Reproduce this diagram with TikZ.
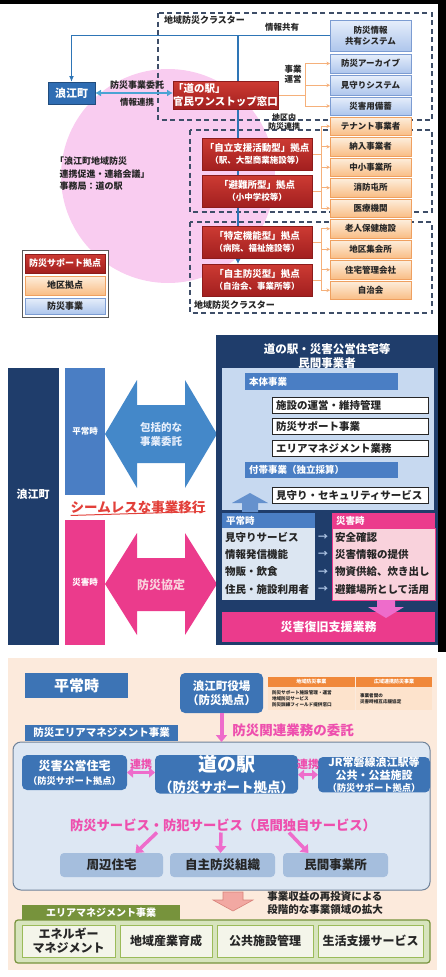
\documentclass[tikz,border=0pt]{standalone}
\usepackage{fontspec}
\setmainfont{Noto Sans CJK JP}
\usetikzlibrary{arrows.meta}
\pgfdeclarelayer{back}\pgfdeclarelayer{mid}\pgfsetlayers{back,mid,main}
\definecolor{navy}{HTML}{1F3D6B}
\definecolor{bluem}{HTML}{4A7EC4}
\definecolor{blueboxc}{HTML}{2F6DB3}
\definecolor{pinkm}{HTML}{EB3B8C}
\definecolor{pinkl}{HTML}{F9D2DC}
\definecolor{lblue}{HTML}{C7D9F0}
\definecolor{lblue2}{HTML}{DCE6F2}
\definecolor{circpink}{HTML}{F9CCF0}
\definecolor{dashc}{HTML}{3E4E68}
\definecolor{lineb}{HTML}{2E75B6}
\definecolor{arrowlb}{HTML}{4BA3D3}
\definecolor{orl}{HTML}{F5B07A}
\definecolor{redt}{HTML}{CD3B33}
\definecolor{redb}{HTML}{A21F1F}
\definecolor{redd}{HTML}{8C1C1C}
\definecolor{ort}{HTML}{FDEEDC}
\definecolor{orb}{HTML}{F9BD85}
\definecolor{ord}{HTML}{EFA060}
\definecolor{blt}{HTML}{E6EEFB}
\definecolor{blb}{HTML}{AEC6EC}
\definecolor{bld}{HTML}{7C9CD2}
\definecolor{seam}{HTML}{E2403A}
\definecolor{peach}{HTML}{FCEADC}
\definecolor{bthree}{HTML}{3D74B5}
\definecolor{pkthree}{HTML}{EE4FAE}
\definecolor{pkar}{HTML}{EE6CCB}
\definecolor{bigf}{HTML}{DDE7F3}
\definecolor{bigd}{HTML}{6F8299}
\definecolor{lowb}{HTML}{A5BEDD}
\definecolor{tbh}{HTML}{F0883A}
\definecolor{tbb}{HTML}{FDE3CC}
\definecolor{grn}{HTML}{77933C}
\definecolor{grnl}{HTML}{D7E4BD}
\definecolor{grnb}{HTML}{F4F5EA}
\definecolor{grnd}{HTML}{9BBB59}
\definecolor{salf}{HTML}{F2A8A2}
\definecolor{sald}{HTML}{D8827A}
\definecolor{arrg}{HTML}{A9C0E0}
\definecolor{txtd}{HTML}{262626}
\newcommand\fsz[2]{\fontsize{#1}{#2}\selectfont}
\newcommand\mybox[7]{\node[#1,anchor=north west,minimum width={(#5-#3)*1pt},minimum height={(#6-#4)*1pt}] (#2) at (#3,#4) {#7};}
\newcommand\myboxl[8]{\mybox{#1}{#2}{#3}{#4}{#5}{#6}{}\node[#7,anchor=west] (#2t) at ([xshift=4pt]#2.west) {#8};}
\tikzset{
  every node/.style={inner sep=0pt,outer sep=0pt,align=center,font=\bfseries},
  redbox/.style={top color=redt,bottom color=redb,draw=redd,line width=0.4pt,text=white,font=\fsz{9.5}{12}\bfseries},
  orbox/.style={top color=ort,bottom color=orb,draw=ord,line width=0.4pt,text=txtd,font=\fsz{8.5}{10}\bfseries},
  blbox/.style={top color=blt,bottom color=blb,draw=bld,line width=0.4pt,text=txtd,font=\fsz{8.5}{11}\bfseries},
  dashrect/.style={draw=dashc,line width=1.1pt,dash pattern=on 5pt off 3.5pt},
  lbl/.style={text=txtd,font=\fsz{8.5}{10}\bfseries},
  bl/.style={draw=lineb,line width=1.2pt},
  ol/.style={draw=orl,line width=0.9pt},
  olar/.style={ol,-{Stealth[length=3.5pt,width=3.5pt]}},
  wbox/.style={fill=white,draw=txtd,line width=0.5pt},
  wtxt/.style={text=txtd,font=\fsz{10.5}{12}\bfseries},
  bartxt/.style={text=white,font=\fsz{9.5}{11}\bfseries},
  rbox3/.style={fill=bthree,rounded corners=5pt,text=white},
  parrow/.style={draw=pkar,line width=3.5pt,-{Triangle[length=7pt,width=11pt]}},
  pdarrow/.style={draw=pkar,line width=3pt,{Triangle[length=6pt,width=10pt]}-{Triangle[length=6pt,width=10pt]}},
  lowbox/.style={fill=lowb,rounded corners=4pt,text=txtd,font=\fsz{12.5}{14}\bfseries},
  gbox/.style={fill=grnb,draw=grnd,line width=0.8pt,text=txtd,font=\fsz{12}{14}\bfseries}
}
\begin{document}
\begin{tikzpicture}[x=1pt,y=-1pt]
\useasboundingbox (0,0) rectangle (446,977);
% ---------------- backgrounds
\begin{pgfonlayer}{back}
\fill[black] (0,0) rectangle (446,4);
\fill[black] (438,0) rectangle (446,652);
\fill[circpink] (168,176) circle (107pt);
\draw[dashrect] (158,13) rectangle (432,120);
\draw[dashrect] (190,130) rectangle (432,212);
\draw[dashrect] (190,222) rectangle (432,313);
\fill[peach] (8,658) rectangle (437,970);
\end{pgfonlayer}
% ---------------- panel 1
\node[lbl,anchor=west,font=\fsz{9}{10}\bfseries] (cl1) at (164,20) {地域防災クラスター};
\node[lbl,anchor=west,font=\fsz{9}{10}\bfseries] (cl2) at (194,305) {地域防災クラスター};
\mybox{fill=blueboxc,draw=blueboxc!70!black,line width=0.4pt,text=white,font=\fsz{11}{12}\bfseries}{nam}{48}{82}{95}{104}{浪江町}
\node[redbox,anchor=north west,minimum width=105pt,minimum height=28pt,align=left,font=\fsz{10.5}{12.5}\bfseries] (eki) at (173,81) {「道の駅」\\官民ワンストップ窓口};
\mybox{blbox}{info}{330}{20}{411}{51}{防災情報\\共有システム}
\mybox{blbox}{arc}{330}{54}{411}{73}{防災アーカイブ}
\mybox{blbox}{mim}{330}{75.5}{411}{95}{見守りシステム}
\mybox{blbox}{bic}{330}{97}{411}{115}{災害用備蓄}
\mybox{orbox}{ten}{330}{117}{411}{135.5}{テナント事業者}
\mybox{orbox}{nou}{330}{137.5}{411}{156}{納入事業者}
\mybox{orbox}{chu}{330}{158}{411}{176.5}{中小事業所}
\mybox{orbox}{sho}{330}{178.5}{411}{197}{消防屯所}
\mybox{orbox}{iry}{330}{199}{411}{217.5}{医療機関}
\mybox{orbox}{rou}{330}{219.5}{411}{238}{老人保健施設}
\mybox{orbox}{chi}{330}{240}{411}{258.5}{地区集会所}
\mybox{orbox}{jut}{330}{260.5}{411}{279}{住宅管理会社}
\mybox{orbox}{jic}{330}{281}{411}{299.5}{自治会}
\mybox{redbox}{ra}{202}{138}{312}{170}{「自立支援活動型」拠点\\{\fsz{8.5}{11}（駅、大型商業施設等）}}
\mybox{redbox}{rb}{202}{175}{312}{207}{「避難所型」拠点\\{\fsz{8.5}{11}（小中学校等）}}
\mybox{redbox}{rc}{202}{226}{312}{258}{「特定機能型」拠点\\{\fsz{8.5}{11}（病院、福祉施設等）}}
\mybox{redbox}{rd}{202}{264}{312}{296}{「自主防災型」拠点\\{\fsz{8.5}{11}（自治会、事業所等）}}
\node[lbl] (jkyo) at (282,27) {情報共有};
\node[lbl] (unei) at (293,74) {事業\\運営};
\node[lbl,font=\fsz{8}{9.5}\bfseries] (chiku) at (284,122) {地区内\\防災連携};
\node[lbl,font=\fsz{9}{10}\bfseries] (itaku) at (137,85) {防災事業委託};
\node[lbl,font=\fsz{8.5}{10}\bfseries] (renk) at (137,102) {情報連携};
\node[lbl,anchor=north west,align=left,font=\fsz{9}{12.5}\bfseries] (kaigi) at (55,157) {「浪江町地域防災\\\hspace{0.5em}連携促進・連絡会議」\\\hspace{0.5em}事務局：道の駅};
\mybox{fill=white,draw=black!65,line width=1pt}{leg}{22}{250}{108}{317}{}
\mybox{redbox,font=\fsz{9}{10}\bfseries}{lg1}{25}{254}{105}{273}{防災サポート拠点}
\mybox{orbox,font=\fsz{9}{10}\bfseries}{lg2}{25}{276}{105}{295}{地区拠点}
\mybox{blbox,font=\fsz{9}{10}\bfseries}{lg3}{25}{298}{105}{314}{防災事業}
\coordinate (tj) at (238,35);
\coordinate (b1) at (305,0);
\coordinate (b2) at (321,0);
\begin{pgfonlayer}{mid}
\draw[bl,{Latex[length=6pt,width=5pt]}-] (nam.north) |- (info.west);
\draw[bl,-{Latex[length=5pt,width=5pt]}] (tj) -- (tj |- rd.north);
\draw[draw=arrowlb,line width=2.2pt,{Latex[length=6pt,width=7pt]}-{Latex[length=6pt,width=7pt]}] (nam.east) -- (nam.east -| eki.west);
\draw[ol] (eki.east) -- (eki.east -| b1);
\draw[ol] (b1 |- arc.west) -- (b1 |- bic.west);
\foreach \n in {arc,mim,bic} \draw[olar] (b1 |- \n.west) -- (\n.west);
\draw[ol] (b2 |- ten.west) -- (b2 |- iry.west);
\draw[ol] (ra.east) -- (ra.east -| b2);
\draw[ol] (rb.east) -- (rb.east -| b2);
\foreach \n in {ten,nou,chu,sho,iry} \draw[olar] (b2 |- \n.west) -- (\n.west);
\draw[ol] (b2 |- rou.west) -- (b2 |- jic.west);
\draw[ol] (rc.east) -- (rc.east -| b2);
\draw[ol] (rd.east) -- (rd.east -| b2);
\foreach \n in {rou,chi,jut,jic} \draw[olar] (b2 |- \n.west) -- (\n.west);
\end{pgfonlayer}
% ---------------- panel 2
\mybox{fill=navy}{nmz}{8}{368}{59}{645}{}
\node[text=white,font=\fsz{11}{12}\bfseries] (nmzt) at (33,494) {浪江町};
\mybox{fill=bluem,text=white,font=\fsz{8.5}{10}\bfseries}{heij}{65}{368}{105}{495}{平常時}
\mybox{fill=pinkm,text=white,font=\fsz{8.5}{10}\bfseries}{saij}{65}{520}{105}{645}{災害時}
\node[text=seam,font=\fsz{13.5}{15}\bfseries] (seam) at (138,507) {シームレスな事業移行};
\draw[seam,line width=1pt] (seam.south west) ++(0,2) -- ([yshift=2pt]seam.south east);
\fill[bluem!92!cyan] (105,434) -- (137,380) -- (137,405) -- (185,405) -- (185,380) -- (217,434) -- (185,488) -- (185,463) -- (137,463) -- (137,488) -- cycle;
\node[text=blt,font=\fsz{10.5}{14}\bfseries] (hok) at (161,434) {包括的な\\事業委託};
\fill[pinkm] (105,584) -- (137,533) -- (137,558) -- (185,558) -- (185,533) -- (217,584) -- (185,635) -- (185,611) -- (137,611) -- (137,635) -- cycle;
\node[text=pinkl,font=\fsz{12}{14}\bfseries] (kyot) at (161,585) {防災協定};
\mybox{fill=navy}{rbig}{216}{335}{438}{645}{}
\node[text=white,font=\fsz{11.5}{14}\bfseries] (rtit) at (327,356) {道の駅・災害公営住宅等\\民間事業者};
\mybox{fill=lblue}{inner}{222}{368}{434}{510}{}
\myboxl{fill=bluem}{hont}{245}{373}{398}{390}{bartxt}{本体事業}
\myboxl{wbox}{w1}{272}{397}{428}{413.5}{wtxt}{施設の運営・維持管理}
\myboxl{wbox}{w2}{272}{418}{428}{434.5}{wtxt}{防災サポート事業}
\myboxl{wbox}{w3}{272}{440}{428}{456.5}{wtxt}{エリアマネジメント業務}
\myboxl{fill=bluem}{futai}{245}{462}{398}{478}{bartxt}{付帯事業（独立採算）}
\myboxl{wbox}{w4}{272}{487}{428}{503}{wtxt}{見守り・セキュリティサービス}
\fill[bluem!85!white] (250,493) -- (268,503) -- (258,503) -- (258,512) -- (242,512) -- (242,503) -- (232,503) -- cycle;
\myboxl{fill=bluem}{hh}{222}{513}{315}{528}{bartxt}{平常時}
\mybox{fill=lblue2}{hrows}{222}{528}{315}{600}{}
\myboxl{fill=pinkm}{sh}{332}{513}{435}{528}{bartxt}{災害時}
\mybox{fill=pinkl,draw=pinkm,line width=0.6pt}{srows}{332}{528}{435}{600}{}
\node[wtxt,anchor=west] (h1) at (225,537) {見守りサービス};
\node[wtxt,anchor=west] (h2) at (225,554.5) {情報発信機能};
\node[wtxt,anchor=west] (h3) at (225,572) {物販・飲食};
\node[wtxt,anchor=west] (h4) at (225,589.5) {住民・施設利用者};
\node[wtxt,anchor=west] (s1) at (335,537) {安全確認};
\node[wtxt,anchor=west] (s2) at (335,554.5) {災害情報の提供};
\node[wtxt,anchor=west] (s3) at (335,572) {物資供給、炊き出し};
\node[wtxt,anchor=west] (s4) at (335,589.5) {避難場所として活用};
\node[text=arrg,font=\fsz{10}{12}\bfseries] (ar1) at (323,537) {→};
\node[text=arrg,font=\fsz{10}{12}\bfseries] (ar2) at (323,554.5) {→};
\node[text=arrg,font=\fsz{10}{12}\bfseries] (ar3) at (323,572) {→};
\node[text=arrg,font=\fsz{10}{12}\bfseries] (ar4) at (323,589.5) {→};
\mybox{fill=pinkm,text=white,font=\fsz{12}{14}\bfseries}{fukk}{222}{612}{435}{642}{災害復旧支援業務}
\fill[pkar] (386,618) -- (404,607) -- (395,607) -- (395,600) -- (377,600) -- (377,607) -- (368,607) -- cycle;
% ---------------- panel 3
\mybox{fill=bthree,text=white,font=\fsz{15}{16}\bfseries}{hei3}{25}{673}{128}{698}{平常時}
\mybox{rbox3,font=\fsz{11.5}{14}\bfseries}{yak}{180}{673}{263}{713}{浪江町役場\\（防災拠点）}
\mybox{fill=tbh,text=white,font=\fsz{5}{6}\bfseries}{th1}{268}{677}{354.5}{687}{地域防災事業}
\mybox{fill=tbh,text=white,font=\fsz{5}{6}\bfseries}{th2}{356}{677}{432}{687}{広域連携防災事業}
\myboxl{fill=tbb}{tb1}{268}{687}{354.5}{710}{text=txtd,align=left,font=\fsz{4.6}{6}\bfseries}{防災サポート施設管理・運営\\地域防災サービス\\防災訓練フィールド提供窓口}
\myboxl{fill=tbb}{tb2}{356}{687}{432}{710}{text=txtd,align=left,font=\fsz{4.6}{6}\bfseries}{事業者間の\\災害時相互応援協定}
\node[text=pkthree,font=\fsz{13.5}{15}\bfseries] (itak3) at (293,730) {防災関連業務の委託};
\mybox{fill=bthree,text=white,font=\fsz{10.5}{12}\bfseries}{tab3}{25}{725}{178}{741}{防災エリアマネジメント事業}
\mybox{fill=bigf,draw=bigd,line width=1pt,rounded corners=8pt}{big}{13}{742}{430}{890}{}
\mybox{rbox3,font=\fsz{12}{14}\bfseries}{kou}{22}{755}{127}{790}{災害公営住宅\\{\fsz{9.3}{11}（防災サポート拠点）}}
\mybox{rbox3,font=\fsz{19}{21}\bfseries}{eki3}{155}{755}{298}{793}{道の駅\\{\fsz{13.5}{15}（防災サポート拠点）}}
\mybox{rbox3,font=\fsz{11}{12.5}\bfseries}{jr}{318}{757}{430}{792}{JR常磐線浪江駅等\\公共・公益施設\\{\fsz{9.3}{11}（防災サポート拠点）}}
\draw[pdarrow] (kou.east) -- (eki3.west |- kou.east);
\draw[pdarrow] (eki3.east |- jr.west) -- (jr.west);
\node[text=pkthree,font=\fsz{11}{12}\bfseries] (rk1) at (141,764) {連携};
\node[text=pkthree,font=\fsz{11}{12}\bfseries] (rk2) at (308,764) {連携};
\node[text=pkthree,font=\fsz{13.3}{15}\bfseries] (svc) at (223,825) {防災サービス・防犯サービス（民間独自サービス）};
\mybox{lowbox}{lw1}{60}{853}{163}{877}{周辺住宅}
\mybox{lowbox}{lw2}{170}{853}{275}{877}{自主防災組織}
\mybox{lowbox}{lw3}{283}{853}{388}{877}{民間事業所}
\draw[parrow] ([xshift=-66pt,yshift=-1pt]svc.south) -- ([xshift=24pt]lw1.north);
\draw[parrow] ([xshift=-2pt,yshift=-1pt]svc.south) -- ([xshift=-2pt]lw2.north);
\draw[parrow] ([xshift=66pt,yshift=-1pt]svc.south) -- ([xshift=-27pt]lw3.north);
\draw[parrow,line width=4pt] (yak.south) -- (big.north);
\filldraw[fill=salf,draw=sald,line width=0.6pt] (223,892) -- (243,892) -- (243,900) -- (253,900) -- (233,911) -- (213,900) -- (223,900) -- cycle;
\node[text=txtd,font=\fsz{10.5}{13}\bfseries,align=left] (toshi) at (325,903) {事業収益の再投資による\\段階的な事業領域の拡大};
\mybox{fill=grnl,draw=grn,line width=1.2pt,rounded corners=3pt}{gbig}{15}{920}{430}{963}{}
\mybox{fill=grn,text=white,font=\fsz{10}{12}\bfseries}{gtab}{22}{905}{180}{920}{エリアマネジメント事業}
\mybox{gbox}{g1}{22}{925}{115}{957}{エネルギー\\マネジメント}
\mybox{gbox}{g2}{120}{925}{212}{957}{地域産業育成}
\mybox{gbox}{g3}{217}{925}{313}{957}{公共施設管理}
\mybox{gbox}{g4}{318}{925}{423}{957}{生活支援サービス}
\end{tikzpicture}
\end{document}
